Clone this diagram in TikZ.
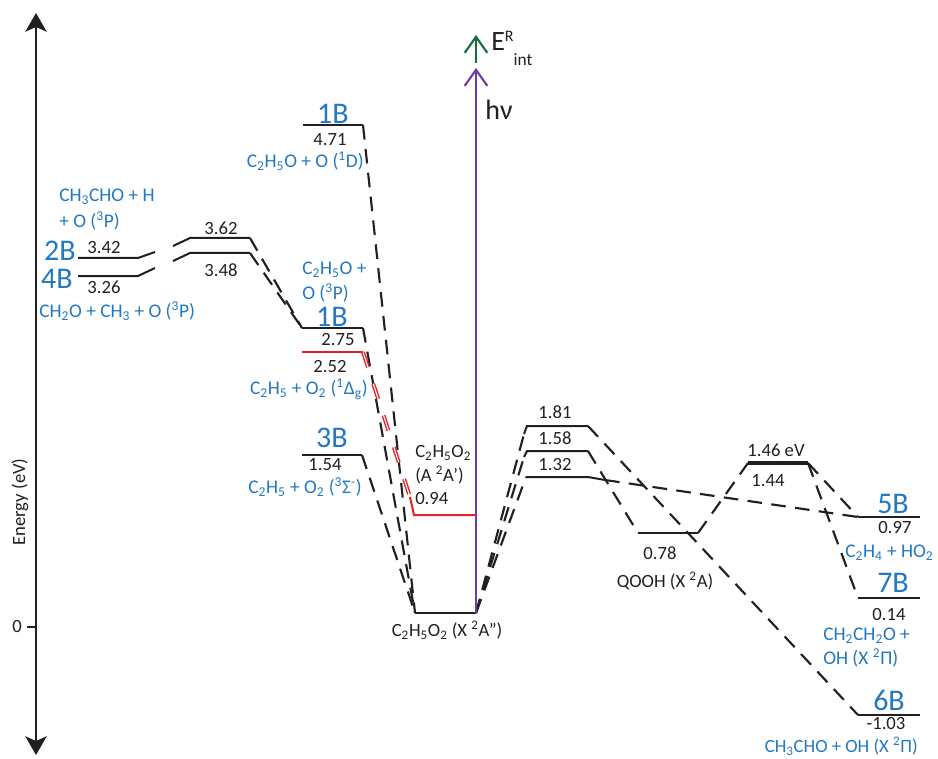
\documentclass[tikz,border=0pt]{standalone}
\usepackage{fontspec}
\setmainfont{Carlito}
\usetikzlibrary{arrows.meta}
\definecolor{bl}{RGB}{35,120,192}
\definecolor{pu}{RGB}{110,60,165}
\definecolor{gr}{RGB}{20,110,60}
\definecolor{rd}{RGB}{232,30,36}
\definecolor{ink}{RGB}{35,31,32}
\newcommand{\dn}[1]{\textsubscript{#1}}
\newcommand{\up}[1]{\textsuperscript{#1}}
\begin{document}
\begin{tikzpicture}[x=0.75pt,y=-0.75pt,
  lvl/.style={line width=1.5pt, draw=ink},
  dsh/.style={line width=1.6pt, draw=ink, dash pattern=on 11pt off 7pt},
  rdsh/.style={line width=1.05pt, draw=rd, double=white, double distance=0.8pt, dash pattern=on 12pt off 13pt},
  num/.style={font=\fontsize{14}{15}\selectfont, text=ink, inner sep=0pt},
  spec/.style={font=\fontsize{14.5}{16}\selectfont, text=bl, inner sep=0pt},
  big/.style={font=\fontsize{22.5}{24}\selectfont, text=bl, inner sep=0pt},
  axlbl/.style={font=\fontsize{14}{15}\selectfont, text=ink, inner sep=0pt},
]
\useasboundingbox (0,0) rectangle (938,759);

% ---------- energy axis ----------
\coordinate (axTop) at (36,13);
\coordinate (axBot) at (36,755);
\coordinate (tick0) at (27,627);
\coordinate (tick1) at (36,627);
\draw[line width=1.8pt, draw=ink, {Stealth[length=14pt,width=16pt,inset=3.5pt]}-{Stealth[length=14pt,width=16pt,inset=3.5pt]}] (axTop) -- (axBot);
\draw[line width=1.5pt, draw=ink] (tick0) -- (tick1);
\node[axlbl] (zero) at (17,627) {0};
\node[axlbl, rotate=90] (elab) at (20,502) {Energy (eV)};

% ---------- coordinates of levels ----------
\coordinate (A1) at (78,258);  \coordinate (A2) at (138,258); \coordinate (A3) at (155,252);
\coordinate (A4) at (173,246); \coordinate (A5) at (190,238); \coordinate (A6) at (250,238);
\coordinate (B1) at (78,276);  \coordinate (B2) at (138,276); \coordinate (B3) at (155,268);
\coordinate (B4) at (173,261); \coordinate (B5) at (190,253); \coordinate (B6) at (250,253);

\coordinate (T1) at (303,125); \coordinate (T2) at (363,125);
\coordinate (M1) at (302,328); \coordinate (M2) at (363,328);
\coordinate (R1) at (302,352); \coordinate (R2) at (363,352);
\coordinate (S1) at (302,455); \coordinate (S2) at (362,455);

\coordinate (WL) at (415,613); \coordinate (WR) at (476,613);
\coordinate (Ra) at (410,497); \coordinate (Rb) at (414,515); \coordinate (Rc) at (476,515);

\coordinate (P1h) at (524,434); \coordinate (P1a) at (527,426); \coordinate (P1b) at (588,426);
\coordinate (P2h) at (524,457); \coordinate (P2a) at (527,451); \coordinate (P2b) at (588,451);
\coordinate (P3a) at (526,477); \coordinate (P3b) at (588,477); \coordinate (P3c) at (605,480);

\coordinate (Q1) at (638,533); \coordinate (Q2) at (698,533);
\coordinate (H1) at (748,463); \coordinate (H2) at (808,463);

\coordinate (F1) at (858,517); \coordinate (F2) at (920,517);
\coordinate (G1) at (858,598); \coordinate (G2) at (920,598);
\coordinate (K1) at (858,715); \coordinate (K2) at (920,715);

% ---------- photon arrows ----------
\coordinate (hvTop) at (476,68);
\coordinate (gBot) at (476,63);
\coordinate (gTop) at (476,35);
\draw[line width=1.6pt, draw=pu, -{Straight Barb[length=12pt,width=17pt,line width=1.6pt]}] (WR) -- (hvTop);
\draw[line width=1.6pt, draw=gr, -{Straight Barb[length=12pt,width=17pt,line width=1.6pt]}] (gBot) -- (gTop);
\node[font=\fontsize{21}{22}\selectfont, text=ink, inner sep=0pt, anchor=west] (Eint) at (491,48) {E\raisebox{0.7ex}{\fontsize{12}{12}\selectfont R}\raisebox{-1.1ex}{\fontsize{13}{13}\selectfont int}};
\node[font=\fontsize{21}{22}\selectfont, text=ink, inner sep=0pt] (hv) at (499,110) {hν};

% ---------- dashed connectors (drawn first) ----------
\draw[dsh] (A6) -- (M1);
\draw[dsh] (B6) -- (M1);
\draw[dsh] (T2) -- (WL);
\draw[dsh] (M2) -- (WL);
\draw[dsh] (S2) -- (WL);
\draw[rdsh] (R2) -- (Ra);
\draw[dsh] (WR) -- (P3a);
\draw[dsh] (WR) -- (P2h);
\draw[dsh] (WR) -- (P1h);
\draw[dsh] (P1b) -- (K1);
\draw[dsh] (P2b) -- (Q1);
\draw[dsh] (P3c) -- (F1);
\draw[dsh] (Q2) -- (H1);
\draw[dsh] (H2) -- (F1);
\draw[dsh] (H2) -- (G1);

% ---------- level lines ----------
\draw[lvl] (A1) -- (A2) -- (A3);
\draw[lvl] (A4) -- (A5) -- (A6);
\draw[lvl] (B1) -- (B2) -- (B3);
\draw[lvl] (B4) -- (B5) -- (B6);
\draw[lvl] (T1) -- (T2);
\draw[lvl] (M1) -- (M2);
\draw[line width=1.5pt, draw=rd] (R1) -- (R2);
\draw[lvl] (S1) -- (S2);
\draw[line width=1.5pt, draw=rd] (Ra) -- (Rb) -- (Rc);
\draw[lvl] (WL) -- (WR);
\draw[lvl] (P1h) -- (P1a) -- (P1b);
\draw[lvl] (P2h) -- (P2a) -- (P2b);
\draw[lvl] (P3a) -- (P3b) -- (P3c);
\draw[lvl] (Q1) -- (Q2);
\draw[line width=2.4pt, draw=ink] (H1) -- (H2);
\draw[lvl] (F1) -- (F2);
\draw[lvl] (G1) -- (G2);
\draw[lvl] (K1) -- (K2);
% redraw purple over well end
\draw[line width=1.6pt, draw=pu] (Rc) -- (WR);

% ---------- labels: left ----------
\node[big] (l2B) at (60,251) {2B};
\node[big] (l4B) at (57,279) {4B};
\node[num] (n342) at (104,248) {3.42};
\node[num] (n326) at (104,287) {3.26};
\node[num] (n362) at (221,228) {3.62};
\node[num] (n348) at (221,270) {3.48};
\node[spec, anchor=west] (s2a) at (59,197) {CH\dn{3}CHO + H};
\node[spec, anchor=west] (s2b) at (59,221) {+ O (\up{3}P)};
\node[spec, anchor=west] (s4) at (39,311) {CH\dn{2}O + CH\dn{3} + O (\up{3}P)};

% ---------- labels: 1B top ----------
\node[big] (l1Bt) at (333,114) {1B};
\node[num] (n471) at (330,140) {4.71};
\node[spec, anchor=east] (s1Bt) at (364,161) {C\dn{2}H\dn{5}O + O (\up{1}D)};

% ---------- labels: 1B mid ----------
\node[spec, anchor=west] (s1Bm1) at (302,270) {C\dn{2}H\dn{5}O +};
\node[spec, anchor=west] (s1Bm2) at (302,293) {O (\up{3}P)};
\node[big] (l1Bm) at (332,317) {1B};
\node[num] (n275) at (338,340) {2.75};
\node[num] (n252) at (330,367) {2.52};
\node[spec, anchor=east] (sDel) at (368,389) {C\dn{2}H\dn{5} + O\dn{2} (\up{1}Δ\dn{g})};
\node[big] (l3B) at (332,438) {3B};
\node[num] (n154) at (325,465) {1.54};
\node[spec, anchor=east] (sSig) at (362,487) {C\dn{2}H\dn{5} + O\dn{2} (\up{3}Σ\up{-})};

% ---------- labels: centre ----------
\node[num, anchor=west] (cA1) at (415,453) {C\dn{2}H\dn{5}O\dn{2}};
\node[num, anchor=west] (cA2) at (415,475) {(A \up{2}A’)};
\node[num, anchor=west] (n094) at (415,499) {0.94};
\node[num] (cX) at (447,630) {C\dn{2}H\dn{5}O\dn{2} (X \up{2}A”)};

% ---------- labels: right ----------
\node[num] (n181) at (555,412) {1.81};
\node[num] (n158) at (555,438) {1.58};
\node[num] (n132) at (555,465) {1.32};
\node[num] (n078) at (660,553) {0.78};
\node[num] (cQ) at (665,581) {QOOH (X \up{2}A)};
\node[num] (n146) at (776,450) {1.46 eV};
\node[num] (n144) at (768,481) {1.44};

\node[big] (l5B) at (893,504) {5B};
\node[num] (n097) at (895,528) {0.97};
\node[spec, anchor=west] (s5B) at (845,553) {C\dn{2}H\dn{4} + HO\dn{2}};
\node[big] (l7B) at (893,583) {7B};
\node[num] (n014) at (889,615) {0.14};
\node[spec, anchor=west] (s7a) at (823,636) {CH\dn{2}CH\dn{2}O +};
\node[spec, anchor=west] (s7b) at (823,658) {OH (X \up{2}Π)};
\node[big] (l6B) at (889,700) {6B};
\node[num] (n103) at (886,724) {-1.03};
\node[spec, font=\fontsize{14}{15}\selectfont, anchor=east] (s6B) at (918,746) {CH\dn{3}CHO + OH (X \up{2}Π)};
\end{tikzpicture}
\end{document}
